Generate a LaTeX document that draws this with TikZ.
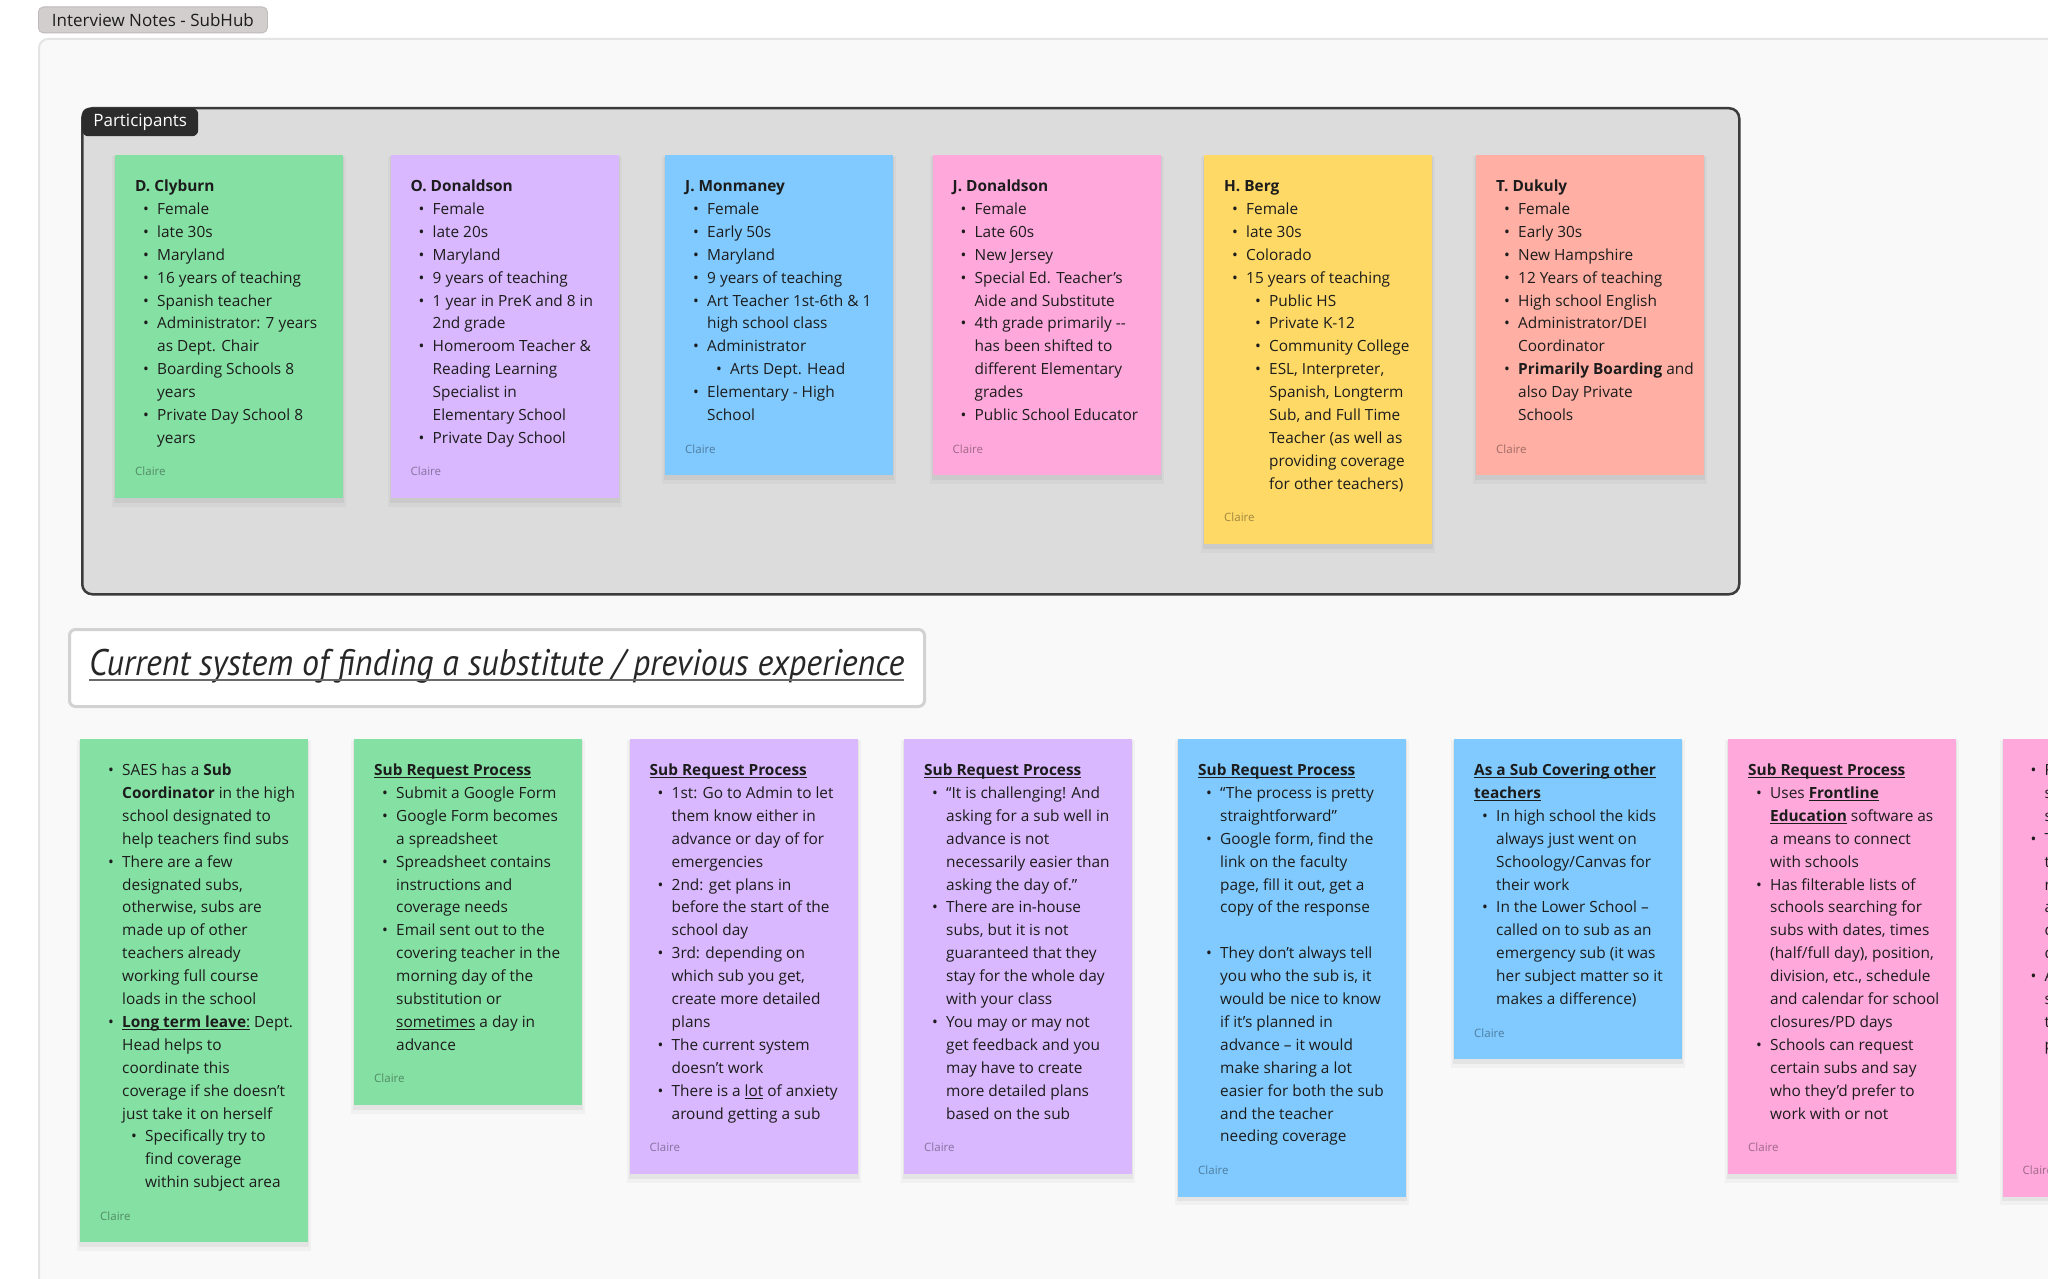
\documentclass[tikz,border=0pt]{standalone}
\usepackage{fontspec}
\usepackage{graphicx}
\setmainfont{Open Sans}
\newfontfamily\hdrfont{PT Sans}
\definecolor{stgreen}{HTML}{85E0A3}
\definecolor{stviolet}{HTML}{D9B8FF}
\definecolor{stblue}{HTML}{80CAFF}
\definecolor{stpink}{HTML}{FFA8DB}
\definecolor{styellow}{HTML}{FFD966}
\definecolor{stsalmon}{HTML}{FFAFA3}
\definecolor{canvasbg}{HTML}{F9F9F9}
\definecolor{canvasline}{HTML}{E4E4E4}
\definecolor{secgray}{HTML}{DCDCDC}
\definecolor{secline}{HTML}{3C3C3C}
\definecolor{chipdark}{HTML}{2C2C2C}
\definecolor{chiplight}{HTML}{D2CECE}
\definecolor{chiplightline}{HTML}{BEBABA}
\definecolor{txt}{HTML}{1C1C1C}
\definecolor{hdrline}{HTML}{D2D2D2}
\definecolor{hdrul}{HTML}{6A6A6A}

\newcommand\ulx[1]{\setbox0=\hbox{#1}\rlap{\rule[-2.4pt]{\wd0}{0.9pt}}\box0\relax}
\newcommand\stT[1]{\hbox{\bfseries #1}}
\newcommand\stB[1]{\hbox{\kern8pt\makebox[14pt][l]{•}#1}}
\newcommand\stC[1]{\hbox{\kern22pt #1}}
\newcommand\stSB[1]{\hbox{\kern31pt\makebox[14pt][l]{•}#1}}
\newcommand\stSC[1]{\hbox{\kern45pt #1}}
\newcommand\stBlank{\hbox{}}

\tikzset{
  stickyshape/.style={anchor=north west, minimum width=228pt, inner sep=0pt, draw=none},
  stickytext/.style={anchor=base west, inner sep=0pt, text=txt, font=\fontsize{15.4}{22.9}\selectfont},
  claire/.style={anchor=base west, inner sep=0pt, text=black, text opacity=0.38, font=\fontsize{11.5}{13}\selectfont},
}

\newcommand\sticky[6]{%
  \pgfmathsetmacro\stkH{31+(#5-1)*22.9+60}%
  \pgfmathsetmacro\stkBot{#4+\stkH}%
  \pgfmathsetmacro\stkFirst{#4+36.5}%
  \pgfmathsetmacro\stkCl{#4+36.5+(#5-1)*22.9+32.5}%
  \fill[black,opacity=0.03] (#3-3,#4+1) rectangle (#3+231,\stkBot+9);
  \fill[black,opacity=0.05] (#3-1,#4+2) rectangle (#3+229,\stkBot+5);
  \node[stickyshape, fill=#2, minimum height=\stkH pt] (#1) at (#3,#4) {};
  \node[stickytext] (#1t) at (#3+20,\stkFirst) {\vtop{\baselineskip=22.9pt\lineskiplimit=-50pt #6}};
  \node[claire] (#1c) at (#3+20,\stkCl) {Claire};
}

\begin{document}
\begin{tikzpicture}[x=1pt,y=-1pt]
\useasboundingbox (0,0) rectangle (2048,1279);
\clip (0,0) rectangle (2048,1279);
\fill[white] (0,0) rectangle (2048,1279);
% canvas frame
\draw[fill=canvasbg, draw=canvasline, line width=2pt, rounded corners=9pt] (39,39) rectangle (2100,1330);
% title chip
\node[anchor=north west, minimum width=229pt, minimum height=26pt, inner sep=0pt, rounded corners=5pt, fill=chiplight, draw=chiplightline, line width=0.8pt, text=txt, font=\fontsize{17}{20}\selectfont] (title) at (38,6.5) {Interview Notes - SubHub};

% participants section
\node[anchor=north west, minimum width=1657pt, minimum height=486pt, inner sep=0pt, rounded corners=10pt, fill=secgray, draw=secline, line width=2.5pt] (psec) at (81,107) {};
\node[anchor=north west, minimum width=116pt, minimum height=28pt, inner sep=0pt, rounded corners=6pt, fill=chipdark, text=white, font=\fontsize{17}{20}\selectfont] (pchip) at (82,108) {Participants};

\sticky{p1}{stgreen}{115}{155}{12}{%
\stT{D. Clyburn}
\stB{Female}
\stB{late 30s}
\stB{Maryland}
\stB{16 years of teaching}
\stB{Spanish teacher}
\stB{Administrator: 7 years}
\stC{as Dept. Chair}
\stB{Boarding Schools 8}
\stC{years}
\stB{Private Day School 8}
\stC{years}}

\sticky{p2}{stviolet}{390.5}{155}{12}{%
\stT{O. Donaldson}
\stB{Female}
\stB{late 20s}
\stB{Maryland}
\stB{9 years of teaching}
\stB{1 year in PreK and 8 in}
\stC{2nd grade}
\stB{Homeroom Teacher \&}
\stC{Reading Learning}
\stC{Specialist in}
\stC{Elementary School}
\stB{Private Day School}}

\sticky{p3}{stblue}{665}{155}{11}{%
\stT{J. Monmaney}
\stB{Female}
\stB{Early 50s}
\stB{Maryland}
\stB{9 years of teaching}
\stB{Art Teacher 1st-6th \& 1}
\stC{high school class}
\stB{Administrator}
\stSB{Arts Dept. Head}
\stB{Elementary - High}
\stC{School}}

\sticky{p4}{stpink}{932.5}{155}{11}{%
\stT{J. Donaldson}
\stB{Female}
\stB{Late 60s}
\stB{New Jersey}
\stB{Special Ed. Teacher’s}
\stC{Aide and Substitute}
\stB{4th grade primarily -{}-}
\stC{has been shifted to}
\stC{different Elementary}
\stC{grades}
\stB{Public School Educator}}

\sticky{p5}{styellow}{1204}{155}{14}{%
\stT{H. Berg}
\stB{Female}
\stB{late 30s}
\stB{Colorado}
\stB{15 years of teaching}
\stSB{Public HS}
\stSB{Private K-12}
\stSB{Community College}
\stSB{ESL, Interpreter,}
\stSC{Spanish, Longterm}
\stSC{Sub, and Full Time}
\stSC{Teacher (as well as}
\stSC{providing coverage}
\stSC{for other teachers)}}

\sticky{p6}{stsalmon}{1476}{155}{11}{%
\stT{T. Dukuly}
\stB{Female}
\stB{Early 30s}
\stB{New Hampshire}
\stB{12 Years of teaching}
\stB{High school English}
\stB{Administrator/DEI}
\stC{Coordinator}
\stB{\textbf{Primarily Boarding} and}
\stC{also Day Private}
\stC{Schools}}

% section header
\node[anchor=north west, minimum width=855pt, minimum height=77pt, inner sep=0pt, rounded corners=6pt, fill=white, draw=hdrline, line width=3pt] (hdr) at (68,628) {};
\node[anchor=base west, inner sep=0pt, text=black!85] (hdrt) at (89,675) {\resizebox{815pt}{\height}{\hdrfont\itshape\fontsize{37}{40}\selectfont Current system of finding a substitute / previous experience}};
\draw[line width=2.2pt, hdrul] ([yshift=-5pt]hdrt.base west) -- ([yshift=-5pt]hdrt.base east);

% bottom row
\sticky{s1}{stgreen}{80}{739}{19}{%
\stB{SAES has a \textbf{Sub}}
\stC{\textbf{Coordinator} in the high}
\stC{school designated to}
\stC{help teachers find subs}
\stB{There are a few}
\stC{designated subs,}
\stC{otherwise, subs are}
\stC{made up of other}
\stC{teachers already}
\stC{working full course}
\stC{loads in the school}
\stB{\ulx{\textbf{Long term leave}:} Dept.}
\stC{Head helps to}
\stC{coordinate this}
\stC{coverage if she doesn’t}
\stC{just take it on herself}
\stSB{Specifically try to}
\stSC{find coverage}
\stSC{within subject area}}

\sticky{s2}{stgreen}{354}{739}{13}{%
\stT{\ulx{Sub Request Process}}
\stB{Submit a Google Form}
\stB{Google Form becomes}
\stC{a spreadsheet}
\stB{Spreadsheet contains}
\stC{instructions and}
\stC{coverage needs}
\stB{Email sent out to the}
\stC{covering teacher in the}
\stC{morning day of the}
\stC{substitution or}
\stC{\ulx{sometimes} a day in}
\stC{advance}}

\sticky{s3}{stviolet}{629.5}{739}{16}{%
\stT{\ulx{Sub Request Process}}
\stB{1st: Go to Admin to let}
\stC{them know either in}
\stC{advance or day of for}
\stC{emergencies}
\stB{2nd: get plans in}
\stC{before the start of the}
\stC{school day}
\stB{3rd: depending on}
\stC{which sub you get,}
\stC{create more detailed}
\stC{plans}
\stB{The current system}
\stC{doesn’t work}
\stB{There is a \ulx{lot} of anxiety}
\stC{around getting a sub}}

\sticky{s4}{stviolet}{904}{739}{16}{%
\stT{\ulx{Sub Request Process}}
\stB{“It is challenging! And}
\stC{asking for a sub well in}
\stC{advance is not}
\stC{necessarily easier than}
\stC{asking the day of.”}
\stB{There are in-house}
\stC{subs, but it is not}
\stC{guaranteed that they}
\stC{stay for the whole day}
\stC{with your class}
\stB{You may or may not}
\stC{get feedback and you}
\stC{may have to create}
\stC{more detailed plans}
\stC{based on the sub}}

\sticky{s5}{stblue}{1178}{739}{17}{%
\stT{\ulx{Sub Request Process}}
\stB{“The process is pretty}
\stC{straightforward”}
\stB{Google form, find the}
\stC{link on the faculty}
\stC{page, fill it out, get a}
\stC{copy of the response}
\stBlank
\stB{They don’t always tell}
\stC{you who the sub is, it}
\stC{would be nice to know}
\stC{if it’s planned in}
\stC{advance – it would}
\stC{make sharing a lot}
\stC{easier for both the sub}
\stC{and the teacher}
\stC{needing coverage}}

\sticky{s6}{stblue}{1454}{739}{11}{%
\stT{\ulx{As a Sub Covering other}}
\stT{\ulx{teachers}}
\stB{In high school the kids}
\stC{always just went on}
\stC{Schoology/Canvas for}
\stC{their work}
\stB{In the Lower School –}
\stC{called on to sub as an}
\stC{emergency sub (it was}
\stC{her subject matter so it}
\stC{makes a difference)}}

\sticky{s7}{stpink}{1728}{739}{16}{%
\stT{\ulx{Sub Request Process}}
\stB{Uses \ulx{\textbf{Frontline}}}
\stC{\ulx{\textbf{Education}} software as}
\stC{a means to connect}
\stC{with schools}
\stB{Has filterable lists of}
\stC{schools searching for}
\stC{subs with dates, times}
\stC{(half/full day), position,}
\stC{division, etc., schedule}
\stC{and calendar for school}
\stC{closures/PD days}
\stB{Schools can request}
\stC{certain subs and say}
\stC{who they’d prefer to}
\stC{work with or not}}

\sticky{s8}{stpink}{2002.5}{739}{17}{%
\stB{R}
\stC{s}
\stC{s}
\stB{T}
\stC{t}
\stC{n}
\stC{a}
\stC{c}
\stC{c}
\stB{A}
\stC{s}
\stC{t}
\stC{p}}
\end{tikzpicture}
\end{document}
